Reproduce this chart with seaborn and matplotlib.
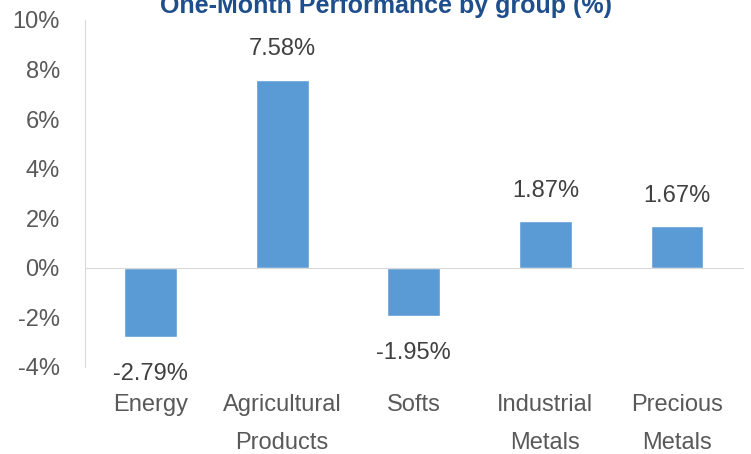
import matplotlib
matplotlib.use('Agg')
import matplotlib.pyplot as plt
import matplotlib.ticker as mticker
import seaborn as sns
import pandas as pd

# data
groups = ['Energy', 'Agricultural\nProducts', 'Softs', 'Industrial\nMetals', 'Precious\nMetals']
perf = [-2.79, 7.58, -1.95, 1.87, 1.67]
y_ticks = [-4, -2, 0, 2, 4, 6, 8, 10]

df = pd.DataFrame({'group': groups, 'perf': perf})

sns.set_style('white')
plt.rcParams['font.family'] = ['Liberation Sans', 'DejaVu Sans']

fig = plt.figure(figsize=(7.51, 4.54), dpi=100)
ax = fig.add_axes([0.113, 0.192, 0.876, 0.764])

sns.barplot(data=df, x='group', y='perf', color='#5B9BD5', saturation=1,
            width=0.4, ax=ax)

ax.set_ylim(-4, 10)
ax.set_xlim(-0.5, len(groups) - 0.5)
ax.set_yticks(y_ticks)
ax.yaxis.set_major_formatter(mticker.FuncFormatter(lambda v, p: f'{v:.0f}%'))

grey = '#D9D9D9'
for s in ['top', 'right']:
    ax.spines[s].set_visible(False)
ax.spines['left'].set_color(grey)
ax.spines['bottom'].set_color(grey)
ax.spines['bottom'].set_position(('data', 0))

ax.tick_params(axis='y', direction='in', length=6, width=1, color=grey,
               labelsize=17, labelcolor='#595959', pad=18)
ax.tick_params(axis='x', which='major', length=0, labelsize=17,
               labelcolor='#595959', pad=91)
ax.set_xticks([i + 0.5 for i in range(len(groups))], minor=True)
ax.tick_params(axis='x', which='minor', direction='in', length=6, width=1,
               color=grey)
for lbl in ax.get_xticklabels():
    lbl.set_linespacing(1.95)

ax.set_xlabel('')
ax.set_ylabel('')

# value labels: positives sit a little closer to the bar than negatives
bars = ax.containers[0]
ax.bar_label(bars, labels=[f'{v:.2f}%' if v >= 0 else '' for v in perf],
             padding=14, fontsize=17, color='#404040')
ax.bar_label(bars, labels=[f'{v:.2f}%' if v < 0 else '' for v in perf],
             padding=19, fontsize=17, color='#404040')

fig.text(0.514, 0.971, 'One-Month Performance by group (%)', ha='center',
         va='baseline', fontsize=18, color='#1F4E8C', fontweight='bold')

fig.savefig('out.png', dpi=100)
